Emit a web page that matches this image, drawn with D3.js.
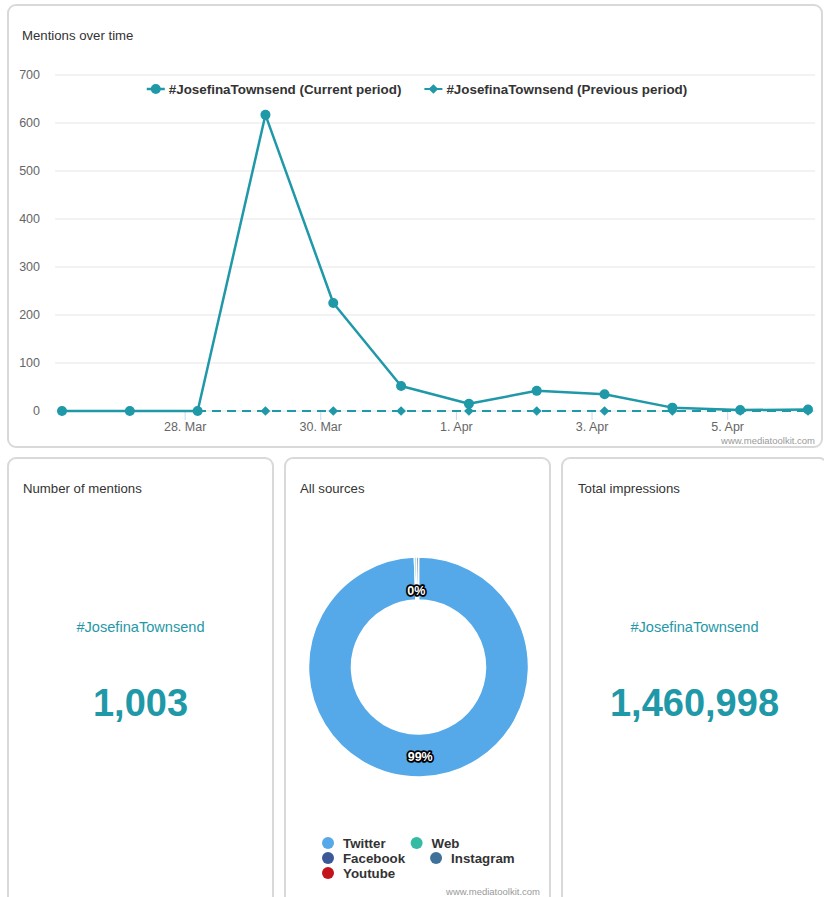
<!DOCTYPE html>
<html>
<head>
<meta charset="utf-8">
<script src="https://cdn.jsdelivr.net/npm/d3@7"></script>
<style>
  body { margin: 0; background: #fff; }
  svg { display: block; font-family: "Liberation Sans", Arial, Helvetica, sans-serif; }
</style>
</head>
<body>
<svg id="board" width="824" height="897"></svg>
<script>
// ---- data ----
const pointTimes = [
  "2019-03-26T04:36", "2019-03-27T04:36", "2019-03-28T04:36", "2019-03-29T04:36",
  "2019-03-30T04:36", "2019-03-31T04:36", "2019-04-01T04:36", "2019-04-02T04:36",
  "2019-04-03T04:36", "2019-04-04T04:36", "2019-04-05T04:36", "2019-04-06T04:36"
];
const currentPeriod  = [0, 0, 0, 617, 225, 52, 15, 42, 35, 7, 2, 3];
const previousPeriod = [0, 0, 0, 0, 0, 0, 0, 0, 0, 0, 0, 0];
const seriesNames = ["#JosefinaTownsend (Current period)", "#JosefinaTownsend (Previous period)"];
const yTicks = [0, 100, 200, 300, 400, 500, 600, 700];
const xTickDates = ["2019-03-28", "2019-03-30", "2019-04-01", "2019-04-03", "2019-04-05"];

const sourceNames  = ["Twitter", "Web", "Facebook", "Instagram", "Youtube"];
const sourceCounts = [997, 3, 3, 0, 0];
const sourceColors = ["#55a9e8", "#35bba4", "#3b5998", "#3f729b", "#c4141b"];

const hashtag = "#JosefinaTownsend";
const mentionsTotal = 1003;
const impressionsTotal = 1460998;

// ---- setup ----
const svg = d3.select("#board");
const teal = "#1f98a8";
const parseTime = d3.timeParse("%Y-%m-%dT%H:%M");
const parseDay = d3.timeParse("%Y-%m-%d");
const times = pointTimes.map(parseTime);
const fmtNum = d3.format(",");

function panel(x, y, w, h) {
  svg.append("rect")
    .attr("x", x).attr("y", y).attr("width", w).attr("height", h)
    .attr("rx", 8).attr("fill", "#fff")
    .attr("stroke", "#d9d9d9").attr("stroke-width", 2);
}
function title(x, y, t) {
  svg.append("text").attr("x", x).attr("y", y)
    .attr("font-size", 13.2).attr("fill", "#333").text(t);
}
function watermark(x, y) {
  svg.append("text").attr("x", x).attr("y", y).attr("text-anchor", "end")
    .attr("font-size", 9.5).attr("fill", "#9a9a9a").text("www.mediatoolkit.com");
}

// ---- mentions over time ----
panel(8, 5, 814, 442);
title(22, 40, "Mentions over time");

const x = d3.scaleTime().domain(d3.extent(times)).range([62, 808]);
const y = d3.scaleLinear().domain([0, 700]).range([411, 75]);
const plotLeft = 55, plotRight = 815;

const grid = svg.append("g");
grid.selectAll("line").data(yTicks).join("line")
  .attr("x1", plotLeft).attr("x2", plotRight)
  .attr("y1", d => y(d)).attr("y2", d => y(d))
  .attr("stroke", "#e6e6e6").attr("stroke-width", 1);
grid.selectAll("text").data(yTicks).join("text")
  .attr("x", 40).attr("y", d => y(d)).attr("dy", "0.35em")
  .attr("text-anchor", "end").attr("font-size", 12.5).attr("fill", "#666")
  .text(d => d);

const xAxis = d3.axisBottom(x)
  .tickValues(xTickDates.map(parseDay))
  .tickFormat(d3.timeFormat("%-d. %b"))
  .tickSize(9).tickPadding(2);
const xg = svg.append("g").attr("transform", "translate(0,411)").call(xAxis);
xg.select(".domain").remove();
xg.selectAll(".tick line").attr("stroke", "#ccd6eb");
xg.selectAll(".tick text").attr("font-size", 12.5).attr("fill", "#666")
  .attr("font-family", "Liberation Sans, Arial, sans-serif");

const line = d3.line().x((d, i) => x(times[i])).y(d => y(d));
const diamond = d3.symbol(d3.symbolDiamond2, 60);

// previous period (dashed, diamonds)
svg.append("path").datum(previousPeriod)
  .attr("d", line).attr("fill", "none")
  .attr("stroke", teal).attr("stroke-width", 2).attr("stroke-dasharray", "9,6");
svg.append("g").selectAll("path").data(previousPeriod).join("path")
  .attr("d", diamond)
  .attr("transform", (d, i) => `translate(${x(times[i])},${y(d)})`)
  .attr("fill", teal);

// current period (solid, circles)
svg.append("path").datum(currentPeriod)
  .attr("d", line).attr("fill", "none")
  .attr("stroke", teal).attr("stroke-width", 2.5).attr("stroke-linejoin", "round");
svg.append("g").selectAll("circle").data(currentPeriod).join("circle")
  .attr("cx", (d, i) => x(times[i])).attr("cy", d => y(d)).attr("r", 5)
  .attr("fill", teal);

// legend
const legend = svg.append("g");
const items = seriesNames.map((name, i) => {
  const g = legend.append("g");
  g.append("line").attr("x1", 0).attr("x2", 18).attr("y1", 0).attr("y2", 0)
    .attr("stroke", teal).attr("stroke-width", i === 0 ? 2.5 : 2)
    .attr("stroke-dasharray", i === 0 ? null : "9,3");
  if (i === 0) g.append("circle").attr("cx", 9).attr("r", 5).attr("fill", teal);
  else g.append("path").attr("d", diamond).attr("transform", "translate(9,0)").attr("fill", teal);
  const t = g.append("text").attr("x", 22).attr("dy", "0.35em")
    .attr("font-size", 13.4).attr("font-weight", "bold").attr("fill", "#333").text(name);
  return { g, w: 22 + t.node().getComputedTextLength() };
});
const gap = 23;
const totalW = d3.sum(items, d => d.w) + gap * (items.length - 1);
let lx = 417 - totalW / 2;
items.forEach(it => { it.g.attr("transform", `translate(${lx},89)`); lx += it.w + gap; });

watermark(815, 444);

// ---- number of mentions ----
panel(8, 458, 265, 460);
title(23, 493, "Number of mentions");
svg.append("text").attr("x", 140.5).attr("y", 632).attr("text-anchor", "middle")
  .attr("font-size", 14.6).attr("fill", teal).text(hashtag);
svg.append("text").attr("x", 140.5).attr("y", 716).attr("text-anchor", "middle")
  .attr("font-size", 38).attr("font-weight", "bold").attr("fill", teal).text(fmtNum(mentionsTotal));

// ---- all sources ----
panel(285, 458, 265, 460);
title(300, 493, "All sources");
const cx = 418.5, cy = 667;
const pieData = d3.pie().sort(null).value(d => d.v)(sourceNames.map((n, i) => ({ n, v: sourceCounts[i], c: sourceColors[i] })));
const arc = d3.arc().innerRadius(67).outerRadius(110);
const donut = svg.append("g").attr("transform", `translate(${cx},${cy})`);
donut.selectAll("path").data(pieData.filter(d => d.data.v > 0)).join("path")
  .attr("d", arc).attr("fill", d => d.data.c)
  .attr("stroke", "#fff").attr("stroke-width", 1.5);

const total = d3.sum(sourceCounts);
const placed = [];
pieData.filter(d => d.data.v > 0).forEach(d => {
  const a = (d.startAngle + d.endAngle) / 2;
  const share = d.data.v / total;
  const r = share < 0.02 ? 76 : 90;
  const px = Math.sin(a) * r, py = -Math.cos(a) * r;
  if (placed.some(p => Math.hypot(p[0] - px, p[1] - py) < 20)) return;
  placed.push([px, py]);
  donut.append("text").attr("x", px).attr("y", py).attr("dy", "0.35em")
    .attr("text-anchor", "middle").attr("font-size", 12.5).attr("font-weight", "bold")
    .attr("fill", "#fff").attr("stroke", "#000").attr("stroke-width", 3.5)
    .attr("stroke-linejoin", "round").attr("paint-order", "stroke")
    .text(d3.format(".0f")(share * 100) + "%");
});

// donut legend (flowing rows)
const dl = svg.append("g");
let ix = 322, iy = 843;
const rowLimit = 545;
sourceNames.forEach((n, i) => {
  const g = dl.append("g");
  g.append("circle").attr("cx", 6).attr("r", 6).attr("fill", sourceColors[i]);
  const t = g.append("text").attr("x", 21).attr("dy", "0.35em")
    .attr("font-size", 13.3).attr("font-weight", "bold").attr("fill", "#333").text(n);
  const w = 21 + t.node().getComputedTextLength();
  if (ix + w > rowLimit) { ix = 322; iy += 15; }
  g.attr("transform", `translate(${ix},${iy})`);
  ix += w + 25;
});
watermark(540, 895);

// ---- total impressions ----
panel(562, 458, 265, 460);
title(578, 493, "Total impressions");
svg.append("text").attr("x", 694.5).attr("y", 632).attr("text-anchor", "middle")
  .attr("font-size", 14.6).attr("fill", teal).text(hashtag);
svg.append("text").attr("x", 694.5).attr("y", 716).attr("text-anchor", "middle")
  .attr("font-size", 38).attr("font-weight", "bold").attr("fill", teal).text(fmtNum(impressionsTotal));
</script>
</body>
</html>
